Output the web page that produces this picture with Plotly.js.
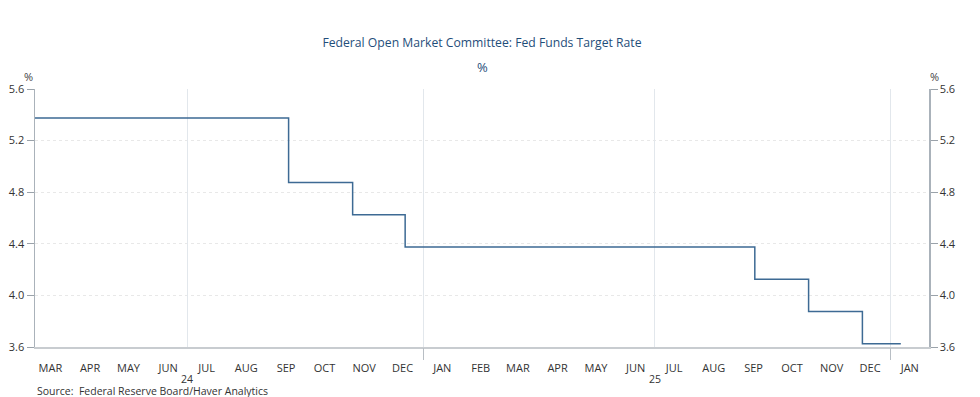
<!DOCTYPE html>
<html>
<head>
<meta charset="utf-8">
<script src="https://cdn.plot.ly/plotly-3.0.1.min.js"></script>
<style>html,body{margin:0;padding:0;background:#fff;}#chart{width:980px;height:397px;}</style>
</head>
<body>
<div id="chart"></div>
<script>
// Step dates (rate changes) and values, % (target range midpoint)
const dates = ['2024-03-01', '2024-09-18', '2024-11-07', '2024-12-18', '2025-09-17', '2025-10-29', '2025-12-10', '2026-01-09'];
const rates = [5.375, 4.875, 4.625, 4.375, 4.125, 3.875, 3.625, 3.625];

const monthTickDates = ['2024-03-16','2024-04-16','2024-05-16','2024-06-16','2024-07-16','2024-08-16','2024-09-16','2024-10-16','2024-11-16','2024-12-16',
  '2025-01-16','2025-02-15','2025-03-16','2025-04-16','2025-05-16','2025-06-16','2025-07-16','2025-08-16','2025-09-16','2025-10-16','2025-11-16','2025-12-16','2026-01-16'];
const monthTickText = ['MAR','APR','MAY','JUN','JUL','AUG','SEP','OCT','NOV','DEC','JAN','FEB','MAR','APR','MAY','JUN','JUL','AUG','SEP','OCT','NOV','DEC','JAN'];
const yearLabelDates = ['2024-07-01', '2025-07-01'];
const yearLabels = ['24', '25'];
const yearBoundaries = ['2025-01-01', '2026-01-01'];
const midYears = ['2024-07-01', '2025-07-01'];
const yTicks = [3.6, 4.0, 4.4, 4.8, 5.2, 5.6];
const yTickText = ['3.6', '4.0', '4.4', '4.8', '5.2', '5.6'];

const xRange = ['2024-03-04', '2026-01-31'];
const FONT = 'Open Sans, Noto Sans, sans-serif';

const traces = [
  {x: dates, y: rates, type: 'scatter', mode: 'lines', line: {shape: 'hv', color: '#3d6a94', width: 1.5}, xaxis: 'x', yaxis: 'y', hoverinfo: 'x+y'},
  {x: dates, y: rates, type: 'scatter', mode: 'lines', line: {width: 0}, xaxis: 'x', yaxis: 'y2', showlegend: false, hoverinfo: 'skip'}
];

const annotations = [
  {text: '%', xref: 'paper', yref: 'paper', x: -0.007, y: 1.0, yshift: 3, xanchor: 'center', yanchor: 'bottom', showarrow: false, font: {family: FONT, size: 11, color: '#444'}},
  {text: '%', xref: 'paper', yref: 'paper', x: 1.006, y: 1.0, yshift: 3, xanchor: 'center', yanchor: 'bottom', showarrow: false, font: {family: FONT, size: 11, color: '#444'}},
  {text: '%', xref: 'paper', yref: 'paper', x: 0.5, y: 1.0, yshift: 11, xanchor: 'center', yanchor: 'bottom', showarrow: false, font: {family: FONT, size: 13, color: '#1f4e7a'}},
  {text: 'Source:  Federal Reserve Board/Haver Analytics', xref: 'paper', yref: 'paper', x: 0, y: 0, xshift: 1, yshift: -44, xanchor: 'left', yanchor: 'middle', borderpad: 0, showarrow: false, font: {family: FONT, size: 10.5, color: '#333'}}
];
yearLabelDates.forEach((d, i) => annotations.push({
  text: yearLabels[i], xref: 'x', yref: 'paper', x: d, y: 0, yshift: -32, xanchor: 'center', yanchor: 'middle', borderpad: 0, showarrow: false, font: {family: FONT, size: 10.5, color: '#333'}
}));

const layout = {
  width: 980, height: 397,
  margin: {l: 35, r: 51, t: 89, b: 50},
  paper_bgcolor: '#fff', plot_bgcolor: '#fff',
  showlegend: false,
  title: {text: 'Federal Open Market Committee: Fed Funds Target Rate', x: 0.4918, xanchor: 'center', y: 0.893, yanchor: 'middle', font: {family: FONT, size: 12.2, color: '#1f4e7a'}},
  xaxis: {
    type: 'date', range: xRange, tickmode: 'array', tickvals: monthTickDates, ticktext: monthTickText,
    ticks: '', showgrid: false, zeroline: false, showline: true, linecolor: '#c8ccd0', linewidth: 2,
    tickfont: {family: FONT, size: 11, color: '#333'}, ticklabelstandoff: 10
  },
  xaxis2: {
    type: 'date', range: xRange, overlaying: 'x', anchor: 'y', side: 'bottom', tickmode: 'array', tickvals: yearBoundaries, ticktext: ['', ''],
    ticks: 'outside', ticklen: 12, tickcolor: '#b8bec4', tickwidth: 1, showgrid: true, gridcolor: '#e2e7ec', gridwidth: 1, showline: false, zeroline: false
  },
  xaxis3: {
    type: 'date', range: xRange, overlaying: 'x', anchor: 'y', side: 'bottom', tickmode: 'array', tickvals: midYears, ticktext: ['', ''],
    ticks: '', showgrid: true, gridcolor: '#e2e7ec', gridwidth: 1, showline: false, zeroline: false
  },
  yaxis: {
    range: [3.6, 5.6], tickmode: 'array', tickvals: yTicks, ticktext: yTickText, ticks: 'outside', ticklen: 7, tickcolor: '#9aa2aa',
    showline: true, linecolor: '#aab2ba', linewidth: 1.5, showgrid: true, gridcolor: '#e8e8e8', griddash: 'dot', zeroline: false,
    tickfont: {family: FONT, size: 11, color: '#333'}
  },
  yaxis2: {
    range: [3.6, 5.6], overlaying: 'y', side: 'right', anchor: 'x', tickmode: 'array', tickvals: yTicks, ticktext: yTickText, ticks: 'outside', ticklen: 7, tickcolor: '#9aa2aa',
    showline: true, linecolor: '#aab2ba', linewidth: 1.5, showgrid: false, zeroline: false,
    tickfont: {family: FONT, size: 11, color: '#333'}
  },
  annotations: annotations
};

// dummy traces to activate overlay x axes
traces.push({x: [xRange[0]], y: [null], xaxis: 'x2', yaxis: 'y', type: 'scatter', mode: 'lines', hoverinfo: 'skip'});
traces.push({x: [xRange[0]], y: [null], xaxis: 'x3', yaxis: 'y', type: 'scatter', mode: 'lines', hoverinfo: 'skip'});

Plotly.newPlot('chart', traces, layout, {displayModeBar: false, staticPlot: true});
</script>
</body>
</html>
